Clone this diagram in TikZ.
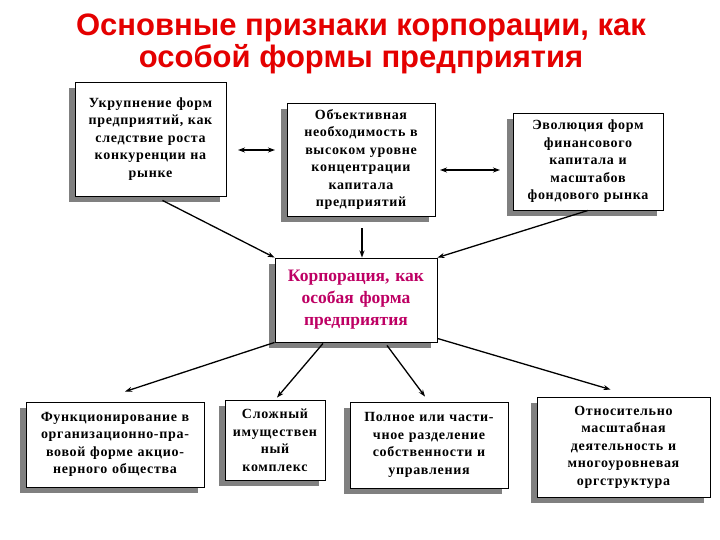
\documentclass[tikz,border=0pt]{standalone}
\usepackage{fontspec}
\setmainfont{Liberation Serif}
\newfontfamily\titlefont{Liberation Sans}
\newfontfamily\boxfont[LetterSpace=5]{Liberation Serif}
\usetikzlibrary{arrows.meta,calc,shadows}
\definecolor{titlered}{RGB}{228,0,0}
\definecolor{corpcol}{RGB}{190,0,100}
\definecolor{shadowgray}{RGB}{128,128,128}
\tikzset{
  box/.style={draw=black, line width=0.9pt, fill=white, align=center,
    inner sep=2pt, font=\boxfont\bfseries\fontsize{14}{17.5}\selectfont,
    drop shadow={shadow xshift=-6pt, shadow yshift=-6pt, fill=shadowgray, opacity=1}},
  conn/.style={line width=1.3pt, -{Stealth[length=7pt,width=5pt]}},
  dconn/.style={line width=1.3pt, {Stealth[length=7pt,width=5pt]}-{Stealth[length=7pt,width=5pt]}},
  ttl/.style={font=\titlefont\bfseries\fontsize{31}{32}\selectfont, text=titlered, align=center}
}
\begin{document}
\begin{tikzpicture}[x=1pt,y=-1pt]
\useasboundingbox (0,0) rectangle (720,540);
\node[ttl] (title) at (361,44) {Основные признаки корпорации, как\\особой формы предприятия};

\node[box, minimum width=151pt, minimum height=114pt, text width=146pt] (b1) at (150.5,139)
  {Укрупнение форм\\предприятий, как\\следствие роста\\конкуренции на\\рынке\\[6pt]};
\node[box, minimum width=148pt, minimum height=113pt, text width=144pt] (b2) at (361,159.5)
  {Объективная\\необходимость в\\высоком уровне\\концентрации\\капитала\\предприятий};
\node[box, minimum width=150pt, minimum height=97pt, text width=146pt] (b3) at (588,161.5)
  {Эволюция форм\\финансового\\капитала и\\масштабов\\фондового рынка};
\node[box, minimum width=162pt, minimum height=84pt, text width=158pt, text=corpcol,
  font=\bfseries\fontsize{17.5}{22}\selectfont] (b4) at (356,300)
  {Корпорация, как\\особая форма\\предприятия};
\node[box, minimum width=178pt, minimum height=85pt, text width=174pt] (b5) at (115,444.5)
  {Функционирование в\\организационно-пра-\\вовой форме акцио-\\нерного общества\\[3pt]};
\node[box, minimum width=100pt, minimum height=80pt, text width=96pt] (b6) at (275,440)
  {Сложный\\имуществен\\ный\\комплекс};
\node[box, minimum width=158pt, minimum height=86pt, text width=154pt] (b7) at (429,445)
  {Полное или части-\\чное разделение\\собственности и\\управления};
\node[box, minimum width=173pt, minimum height=100pt, text width=169pt] (b8) at (623.5,447)
  {Относительно\\масштабная\\деятельность и\\многоуровневая\\оргструктура};

\coordinate (d1a) at (238,150);
\coordinate (d1b) at (275,150);
\coordinate (d2a) at (440,170);
\coordinate (d2b) at (500,170);
\draw[dconn] (d1a) -- (d1b);
\draw[dconn] (d2a) -- (d2b);

\draw[conn] ($(b1.south)+(12,4)$) -- (b4.north west);
\draw[conn] ($(b2.south)+(1,12)$) -- ($(b4.north)+(6,0)$);
\draw[conn] (b3.south) -- (b4.north east);
\draw[conn] (b4.south west) -- ($(b5.north)+(10,-10)$);
\draw[conn] ($(b4.south)+(-33,1)$) -- ($(b6.north)+(2,-2)$);
\draw[conn] ($(b4.south)+(31,3)$) -- ($(b7.north)+(-4,-5)$);
\draw[conn] ($(b4.south east)+(0,-4)$) -- ($(b8.north)+(-13,-7)$);
\end{tikzpicture}
\end{document}
